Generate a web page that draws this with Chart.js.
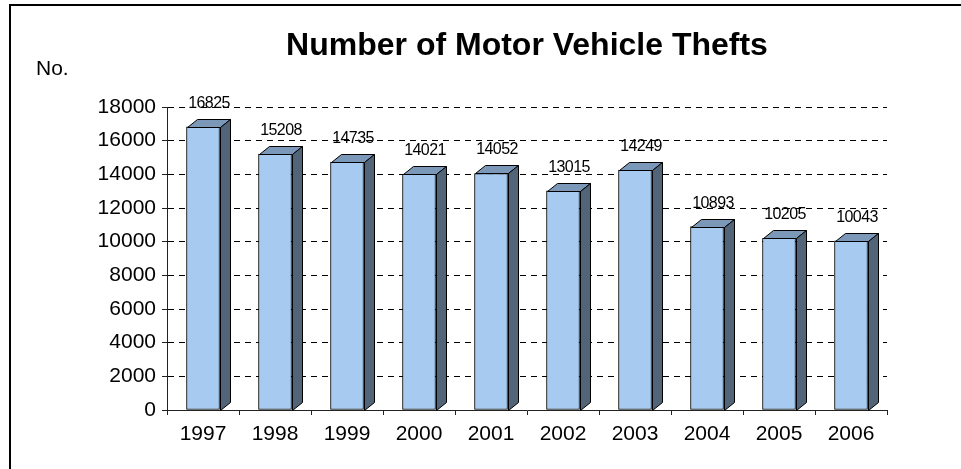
<!DOCTYPE html>
<html>
<head>
<meta charset="utf-8">
<script src="https://cdn.jsdelivr.net/npm/chart.js@4/dist/chart.umd.min.js"></script>
<style>
    html, body { margin: 0; padding: 0; background: #fff; }
    #wrap { position: relative; width: 961px; height: 469px; overflow: hidden; }
    #frame { position: absolute; left: 9px; top: 4px; width: 1000px; height: 500px;
             border-left: 2px solid #000; border-top: 2px solid #000; pointer-events: none; }
    canvas { position: absolute; left: 0; top: 0; }
</style>
</head>
<body>
<div id="wrap">
    <canvas id="chart" width="961" height="469"></canvas>
    <div id="frame"></div>
</div>
<script>
// Data
const years = ['1997', '1998', '1999', '2000', '2001', '2002', '2003', '2004', '2005', '2006'];
const thefts = [16825, 15208, 14735, 14021, 14052, 13015, 14249, 10893, 10205, 10043];
const yTicks = [0, 2000, 4000, 6000, 8000, 10000, 12000, 14000, 16000, 18000];

const FONT = "'Liberation Sans', Arial, sans-serif";
const DEPTH_X = 10;
const DEPTH_Y = 8;

// Draws the top and side faces of each column plus the value labels
const columns3d = {
    id: 'columns3d',
    afterDatasetsDraw(chart) {
        const ctx = chart.ctx;
        const meta = chart.getDatasetMeta(0);
        ctx.save();
        ctx.lineWidth = 1;
        ctx.strokeStyle = '#000';
        meta.data.forEach((bar, i) => {
            const p = bar.getProps(['x', 'y', 'base', 'width'], true);
            const l = Math.round(p.x - p.width / 2) + 0.5;
            const r = Math.round(p.x + p.width / 2) + 0.5;
            const t = Math.round(p.y) + 0.5;
            const b = Math.round(p.base) + 0.5;

            // top face
            ctx.beginPath();
            ctx.moveTo(l, t);
            ctx.lineTo(l + DEPTH_X, t - DEPTH_Y);
            ctx.lineTo(r + DEPTH_X, t - DEPTH_Y);
            ctx.lineTo(r, t);
            ctx.closePath();
            ctx.fillStyle = '#7c98b8';
            ctx.fill();
            ctx.stroke();

            // side face
            ctx.beginPath();
            ctx.moveTo(r, t);
            ctx.lineTo(r + DEPTH_X, t - DEPTH_Y);
            ctx.lineTo(r + DEPTH_X, b - DEPTH_Y);
            ctx.lineTo(r, b);
            ctx.closePath();
            ctx.fillStyle = '#516478';
            ctx.fill();
            ctx.stroke();

            // value label
            ctx.fillStyle = '#000';
            ctx.font = '16px ' + FONT;
            ctx.letterSpacing = '-0.6px';
            ctx.textAlign = 'center';
            ctx.textBaseline = 'alphabetic';
            ctx.fillText(String(thefts[i]), (l + r + DEPTH_X) / 2, t - DEPTH_Y - 12);
        });
        ctx.restore();
    },
    afterDraw(chart) {
        const ctx = chart.ctx;
        ctx.save();
        ctx.fillStyle = '#000';
        ctx.font = '21px ' + FONT;
        ctx.textAlign = 'left';
        ctx.textBaseline = 'alphabetic';
        ctx.fillText('No.', 36, 75);
        ctx.restore();
    }
};

new Chart(document.getElementById('chart').getContext('2d'), {
    type: 'bar',
    data: {
        labels: years,
        datasets: [{
            data: thefts,
            backgroundColor: '#a6caf0',
            borderColor: '#000',
            borderWidth: 1,
            borderSkipped: false,
            barThickness: 33
        }]
    },
    options: {
        responsive: false,
        animation: false,
        layout: { padding: { left: 87, right: 74, top: 0, bottom: 19 } },
        plugins: {
            legend: { display: false },
            tooltip: { enabled: false },
            title: {
                display: true,
                fullSize: false,
                text: 'Number of Motor Vehicle Thefts',
                color: '#000',
                font: { family: FONT, size: 32, weight: 'bold' },
                padding: { top: 27, bottom: 41.6 }
            }
        },
        scales: {
            x: {
                afterFit: (scale) => { scale.height = 40; },
                grid: { drawOnChartArea: false, drawTicks: true, tickLength: 5, tickColor: '#222' },
                border: { display: true, color: '#222', width: 1 },
                ticks: { color: '#000', padding: 7, font: { family: FONT, size: 21 } }
            },
            y: {
                min: 0,
                max: 18000,
                afterFit: (scale) => { scale.width = 80; },
                afterBuildTicks: (scale) => { scale.ticks = yTicks.map(v => ({ value: v })); },
                grid: { color: '#000', lineWidth: 1, tickLength: 5, tickColor: '#222', tickBorderDash: [] },
                border: { display: true, color: '#222', width: 1, dash: [6, 5] },
                ticks: {
                    color: '#000',
                    padding: 6,
                    font: { family: FONT, size: 21 },
                    callback: (value) => String(value)
                }
            }
        }
    },
    plugins: [columns3d]
});
</script>
</body>
</html>
